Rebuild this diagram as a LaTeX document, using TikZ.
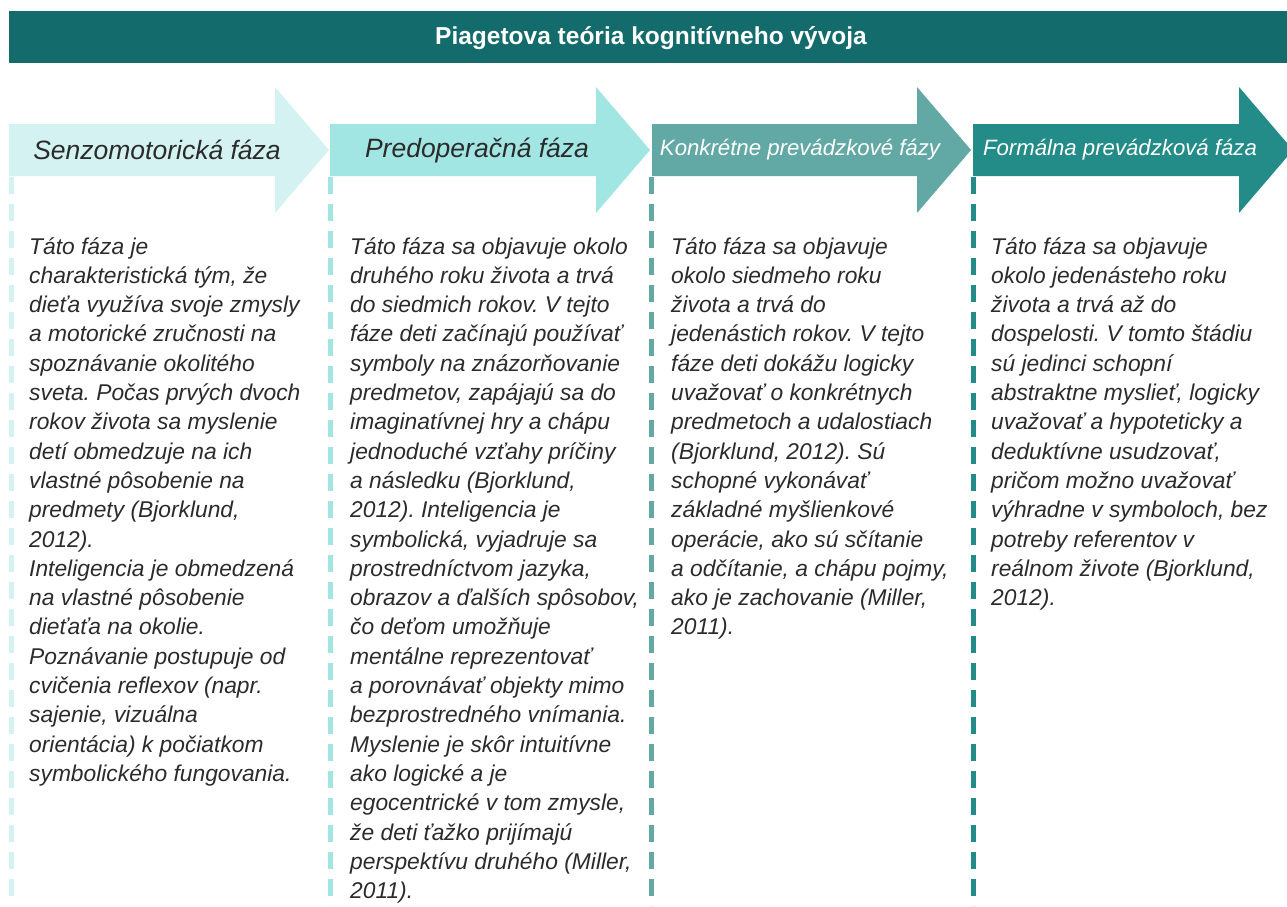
\documentclass[tikz,border=0pt]{standalone}
\usepackage{fontspec}
\setmainfont{Liberation Sans}
\usetikzlibrary{positioning}
\frenchspacing
\definecolor{titlebar}{HTML}{146B6B}
\definecolor{phaseA}{HTML}{D4F2F2}
\definecolor{phaseB}{HTML}{A2E6E4}
\definecolor{phaseC}{HTML}{62A8A5}
\definecolor{phaseD}{HTML}{238B88}
\definecolor{bodytext}{HTML}{2B2B2B}
\newcommand{\coltext}[1]{\parbox[t]{320pt}{\raggedright #1}}
\tikzset{phasetext/.style={anchor=base west, inner sep=0pt, text=bodytext, font=\fontsize{22.8}{29.3}\selectfont\itshape},
	biglabel/.style={inner sep=0pt, text=bodytext, font=\fontsize{26.5}{30}\selectfont\itshape},
	smalllabel/.style={inner sep=0pt, text=white, font=\fontsize{22.2}{26}\selectfont\itshape},
	divider/.style={line width=5pt, dash pattern=on 16.5pt off 10.5pt}}

\begin{document}
\begin{tikzpicture}[x=1pt, y=-1pt]
	\useasboundingbox (0,0) rectangle (1287,906);
	\fill[titlebar] (9,11) rectangle (1287,63);
	\node[text=white, font=\fontsize{24.5}{28}\selectfont\bfseries] (title) at (651,38) {Piagetova teória kognitívneho vývoja};

	\foreach \xa/\col in {11.5/phaseA, 330.5/phaseB, 651.5/phaseC, 973.5/phaseD}
		\draw[divider, \col] (\xa,177) -- (\xa,906);

	\foreach \xa/\xb/\col in {9/275/phaseA, 330/596/phaseB, 652/917/phaseC, 973/1239/phaseD}
		\fill[\col] (\xa,124) -- (\xb,124) -- (\xb,87) -- (\xb+54,150) -- (\xb,213) -- (\xb,176) -- (\xa,176) -- cycle;

	\node[biglabel] (senzo) at (157,150) {Senzomotorická fáza};
	\node[biglabel] (predop) at (477,150) {Predoperačná fáza};
	\node[smalllabel] (konkr) at (800,150) {Konkrétne prevádzkové fázy};
	\node[smalllabel] (formal) at (1120,150) {Formálna prevádzková fáza};

	\node[phasetext] (senzotext) at (29,254) {\coltext{Táto fáza je\\
		charakteristická tým, že\\
		dieťa využíva svoje zmysly\\
		a motorické zručnosti na\\
		spoznávanie okolitého\\
		sveta. Počas prvých dvoch\\
		rokov života sa myslenie\\
		detí obmedzuje na ich\\
		vlastné pôsobenie na\\
		predmety (Bjorklund,\\
		2012).\\
		Inteligencia je obmedzená\\
		na vlastné pôsobenie\\
		dieťaťa na okolie.\\
		Poznávanie postupuje od\\
		cvičenia reflexov (napr.\\
		sajenie, vizuálna\\
		orientácia) k počiatkom\\
		symbolického fungovania.}};
	\node[phasetext] (predoptext) at (350,254) {\coltext{Táto fáza sa objavuje okolo\\
		druhého roku života a trvá\\
		do siedmich rokov. V tejto\\
		fáze deti začínajú používať\\
		symboly na znázorňovanie\\
		predmetov, zapájajú sa do\\
		imaginatívnej hry a chápu\\
		jednoduché vzťahy príčiny\\
		a následku (Bjorklund,\\
		2012). Inteligencia je\\
		symbolická, vyjadruje sa\\
		prostredníctvom jazyka,\\
		obrazov a ďalších spôsobov,\\
		čo deťom umožňuje\\
		mentálne reprezentovať\\
		a porovnávať objekty mimo\\
		bezprostredného vnímania.\\
		Myslenie je skôr intuitívne\\
		ako logické a je\\
		egocentrické v tom zmysle,\\
		že deti ťažko prijímajú\\
		perspektívu druhého (Miller,\\
		2011).}};
	\node[phasetext] (konkrtext) at (671,254) {\coltext{Táto fáza sa objavuje\\
		okolo siedmeho roku\\
		života a trvá do\\
		jedenástich rokov. V tejto\\
		fáze deti dokážu logicky\\
		uvažovať o konkrétnych\\
		predmetoch a udalostiach\\
		(Bjorklund, 2012). Sú\\
		schopné vykonávať\\
		základné myšlienkové\\
		operácie, ako sú sčítanie\\
		a odčítanie, a chápu pojmy,\\
		ako je zachovanie (Miller,\\
		2011).}};
	\node[phasetext] (formaltext) at (991,254) {\coltext{Táto fáza sa objavuje\\
		okolo jedenásteho roku\\
		života a trvá až do\\
		dospelosti. V tomto štádiu\\
		sú jedinci schopní\\
		abstraktne myslieť, logicky\\
		uvažovať a hypoteticky a\\
		deduktívne usudzovať,\\
		pričom možno uvažovať\\
		výhradne v symboloch, bez\\
		potreby referentov v\\
		reálnom živote (Bjorklund,\\
		2012).}};
\end{tikzpicture}
\end{document}
